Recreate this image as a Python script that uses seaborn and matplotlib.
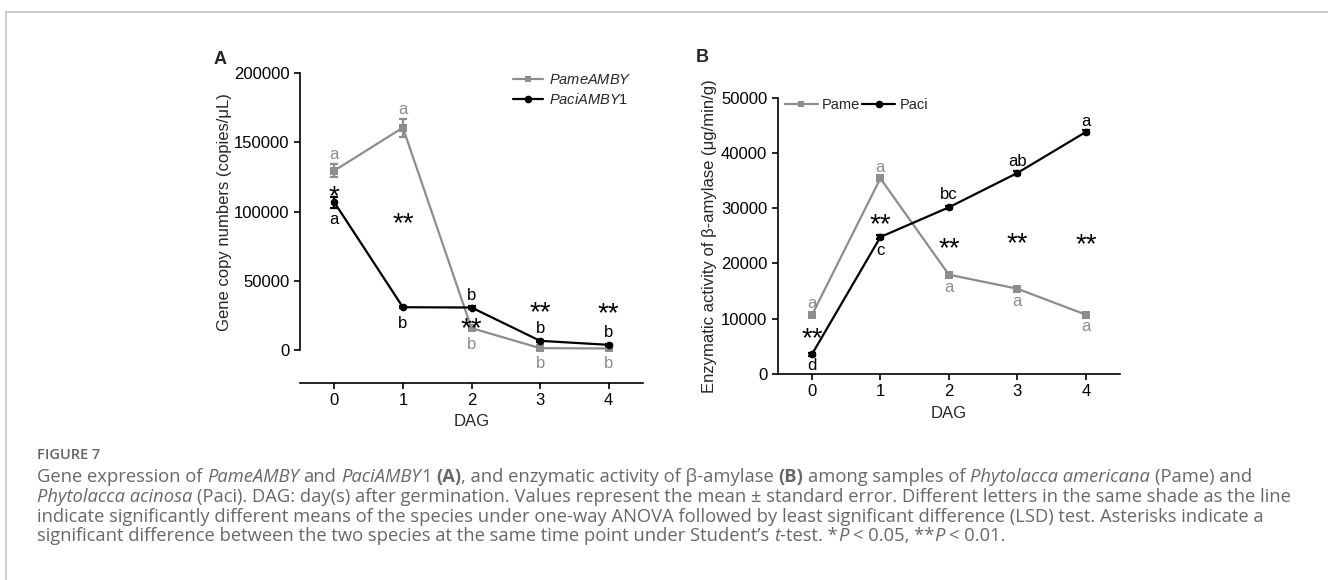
import numpy as np
import pandas as pd
import matplotlib
matplotlib.use("Agg")
import matplotlib.pyplot as plt
import seaborn as sns
from matplotlib.lines import Line2D

# ---------------- data ----------------
dag = [0, 1, 2, 3, 4]
species_names = ["Pame", "Paci"]

pame_gene = [129600, 160700, 15700, 1200, 1000]
pame_gene_se = [4500, 6500, 1500, 400, 300]
paci_gene = [106700, 30800, 30600, 6500, 3600]
paci_gene_se = [4000, 900, 1200, 700, 500]

pame_enz = [10680, 35400, 17970, 15440, 10740]
pame_enz_se = [300, 400, 300, 250, 250]
paci_enz = [3560, 24790, 30160, 36370, 43790]
paci_enz_se = [250, 300, 300, 300, 350]

letters_pame_gene = ["a", "a", "b", "b", "b"]
letters_paci_gene = ["a", "b", "b", "b", "b"]
letters_pame_enz = ["a", "a", "a", "a", "a"]
letters_paci_enz = ["d", "c", "bc", "ab", "a"]
stars_gene = ["*", "**", "**", "**", "**"]
stars_enz = ["**", "**", "**", "**", "**"]

gene_yticks = [0, 50000, 100000, 150000, 200000]
enz_yticks = [0, 10000, 20000, 30000, 40000, 50000]

# ---------------- layout / style (not data) ----------------
off_pame_gene = [11.4, 13.2, -12.0, -10.8, -10.6]
off_paci_gene = [-12.7, -11.4, 9.0, 9.1, 9.1]
off_pame_enz = [8.4, 7.7, -9.4, -8.9, -8.6]
off_paci_enz = [-8.4, -9.9, 9.6, 8.1, 7.9]
star_y_gene = [116600, 97600, 21700, 33000, 32500]
star_y_enz = [7960, 28470, 24250, 25150, 24970]

GREY = "#8d8d8d"
BLACK = "#000000"

sns.set_theme(style="ticks")
plt.rcParams["font.family"] = ["Liberation Sans", "DejaVu Sans"]
plt.rcParams["mathtext.fontset"] = "custom"
plt.rcParams["mathtext.rm"] = "Liberation Sans"
plt.rcParams["mathtext.it"] = "Liberation Sans:italic"
plt.rcParams["mathtext.bf"] = "Liberation Sans:bold"

W, H = 1328, 580
fig = plt.figure(figsize=(W / 100, H / 100), dpi=100)
fig.patch.set_facecolor("white")


def px_axes(l, t, r, b):
    return fig.add_axes([l / W, 1 - b / H, (r - l) / W, (b - t) / H])


axA = px_axes(300, 73.3, 643, 383)
axB = px_axes(777.7, 97.7, 1120, 374)


def make_df(a, b):
    return pd.DataFrame({
        "DAG": dag * 2,
        "value": list(a) + list(b),
        "species": [species_names[0]] * len(dag) + [species_names[1]] * len(dag),
    })


def draw_panel(ax, pame, pame_se, paci, paci_se):
    df = make_df(pame, paci)
    sns.lineplot(data=df, x="DAG", y="value", hue="species", style="species",
                 hue_order=species_names, style_order=species_names,
                 palette={"Pame": GREY, "Paci": BLACK},
                 markers={"Pame": "s", "Paci": "o"}, dashes=False,
                 markersize=5.5, markeredgewidth=0, linewidth=1.6,
                 errorbar=None, legend=False, ax=ax, zorder=3)
    ax.errorbar(dag, pame, yerr=pame_se, fmt="none", ecolor=GREY,
                elinewidth=1.6, capsize=2.6, capthick=1.6, zorder=2)
    ax.errorbar(dag, paci, yerr=paci_se, fmt="none", ecolor=BLACK,
                elinewidth=1.6, capsize=2.6, capthick=1.6, zorder=4)


def annotate_letters(ax, vals, letters, offs, color):
    for x, y, s, o in zip(dag, vals, letters, offs):
        ax.annotate(s, (x, y), xytext=(0, o), textcoords="offset points",
                    ha="center", va="center", fontsize=12, color=color, zorder=6)


def annotate_stars(ax, ys, stars):
    fs = 20
    for x, y, s in zip(dag, ys, stars):
        ax.annotate(s, (x, y), xytext=(0, -0.575 * fs), textcoords="offset points",
                    ha="center", va="baseline", fontsize=fs, color=BLACK, zorder=6)


def style_axes(ax):
    sns.despine(ax=ax)
    for sp in ("left", "bottom"):
        ax.spines[sp].set_linewidth(1.2)
        ax.spines[sp].set_color("black")
    ax.tick_params(axis="both", direction="out", length=4, width=1.2,
                   labelsize=12, colors="black", pad=3.5)
    ax.set_xlim(-0.5, 4.5)
    ax.set_xticks(dag)
    ax.set_xticklabels([str(d) for d in dag])
    ax.set_facecolor("white")


# ---------------- Panel A ----------------
draw_panel(axA, pame_gene, pame_gene_se, paci_gene, paci_gene_se)
style_axes(axA)
axA.set_ylim(-24000, 200000)
axA.set_yticks(gene_yticks)
axA.set_yticklabels([str(v) for v in gene_yticks])
axA.spines["left"].set_bounds(0, 200000)
axA.set_ylabel("Gene copy numbers (copies/\u03bcL)", fontsize=12)
axA.yaxis.set_label_coords(-0.198, 0.553)
axA.set_xlabel("DAG", fontsize=12)
axA.xaxis.set_label_coords(0.5, -0.100)
annotate_letters(axA, pame_gene, letters_pame_gene, off_pame_gene, GREY)
annotate_letters(axA, paci_gene, letters_paci_gene, off_paci_gene, BLACK)
annotate_stars(axA, star_y_gene, stars_gene)

hA = [Line2D([], [], color=GREY, marker="s", markersize=5, markeredgewidth=0, lw=1.6),
      Line2D([], [], color=BLACK, marker="o", markersize=5.5, markeredgewidth=0, lw=1.6)]
axA.legend(hA, [r"$\mathit{PameAMBY}$", r"$\mathit{PaciAMBY}$1"], loc="upper left",
           bbox_to_anchor=(0.621, 1.0), frameon=False, fontsize=10.5,
           borderpad=0, borderaxespad=0, handlelength=2.06, handletextpad=0.4,
           labelspacing=0.35)

# ---------------- Panel B ----------------
draw_panel(axB, pame_enz, pame_enz_se, paci_enz, paci_enz_se)
style_axes(axB)
axB.set_ylim(0, 50000)
axB.set_yticks(enz_yticks)
axB.set_yticklabels([str(v) for v in enz_yticks])
axB.set_ylabel("Enzymatic activity of \u03b2-amylase (\u03bcg/min/g)", fontsize=12)
axB.yaxis.set_label_coords(-0.177, 0.5)
axB.set_xlabel("DAG", fontsize=12)
axB.xaxis.set_label_coords(0.5, -0.116)
annotate_letters(axB, pame_enz, letters_pame_enz, off_pame_enz, GREY)
annotate_letters(axB, paci_enz, letters_paci_enz, off_paci_enz, BLACK)
annotate_stars(axB, star_y_enz, stars_enz)

hB = [Line2D([], [], color=GREY, marker="s", markersize=5, markeredgewidth=0, lw=1.6),
      Line2D([], [], color=BLACK, marker="o", markersize=5.5, markeredgewidth=0, lw=1.6)]
axB.legend(hB, species_names, loc="upper left", bbox_to_anchor=(0.021, 1.0),
           frameon=False, fontsize=10.5, ncol=2, borderpad=0, borderaxespad=0,
           handlelength=2.27, handletextpad=0.27, columnspacing=0.14)

# panel letters
fig.text(220 / W, 1 - 59 / H, "A", fontsize=13, fontweight="bold", ha="center", va="center")
fig.text(702 / W, 1 - 57 / H, "B", fontsize=13, fontweight="bold", ha="center", va="center")

# ---------------- frame ----------------
FRAME = "#c4c4c4"
fig.add_artist(Line2D([6 / W, 1], [1 - 12 / H, 1 - 12 / H], color=FRAME, lw=1.2,
                      transform=fig.transFigure))
fig.add_artist(Line2D([6 / W, 6 / W], [0, 1 - 12 / H], color=FRAME, lw=1.2,
                      transform=fig.transFigure))

# ---------------- caption ----------------
CAP = "#686868"
CAPFAM = ["Open Sans", "Lato", "DejaVu Sans"]
fig.text(37 / W, 1 - 455 / H, "FIGURE 7", fontsize=10.5, color="#666666",
         family=CAPFAM, fontweight="semibold", ha="left", va="center")

caption_lines = [
    [("Gene expression of ", "n"), ("PameAMBY", "i"), (" and ", "n"), ("PaciAMBY", "i"),
     ("1 ", "n"), ("(A)", "b"), (", and enzymatic activity of \u03b2-amylase ", "n"),
     ("(B)", "b"), (" among samples of ", "n"), ("Phytolacca americana", "i"),
     (" (Pame) and", "n")],
    [("Phytolacca acinosa", "i"),
     (" (Paci). DAG: day(s) after germination. Values represent the mean \u00b1 standard error. "
      "Different letters in the same shade as the line", "n")],
    [("indicate significantly different means of the species under one-way ANOVA followed by "
      "least significant difference (LSD) test. Asterisks indicate a", "n")],
    [("significant difference between the two species at the same time point under Student\u2019s ", "n"),
     ("t", "i"), ("-test. *", "n"), ("P", "i"), (" < 0.05, **", "n"), ("P", "i"), (" < 0.01.", "n")],
]
line_y = [477, 497, 517, 536]

renderer = fig.canvas.get_renderer()


def seg_kw(style, fs):
    kw = dict(fontsize=fs, color=CAP, family=CAPFAM, ha="left", va="center")
    if style == "i":
        kw.update(fontstyle="italic", fontweight="normal")
    elif style == "b":
        kw.update(fontweight="bold")
    else:
        kw.update(fontweight="normal")
    return kw


def measure(s, style, fs):
    t = fig.text(0, 0, s, **seg_kw(style, fs))
    w = t.get_window_extent(renderer).width
    t.remove()
    return w


def space_w(style, fs):
    return measure("a a", style, fs) - measure("aa", style, fs)


def draw_line(segs, x0, y, fs, dodraw=True):
    x = x0
    for s, st in segs:
        lead = len(s) - len(s.lstrip(" "))
        trail = len(s) - len(s.rstrip(" "))
        core = s.strip(" ")
        sw = space_w(st, fs)
        x += lead * sw
        if core:
            if dodraw:
                t = fig.text(x / W, 1 - y / H, core, **seg_kw(st, fs))
                x += t.get_window_extent(renderer).width
            else:
                x += measure(core, st, fs)
        x += trail * sw
    return x - x0


fs0 = 11.0
w0 = draw_line(caption_lines[0], 37, line_y[0], fs0, dodraw=False)
cap_fs = fs0 * (1255 - 37) / w0
for segs, y in zip(caption_lines, line_y):
    draw_line(segs, 37, y, cap_fs)

fig.savefig("out.png", dpi=100, facecolor="white")
